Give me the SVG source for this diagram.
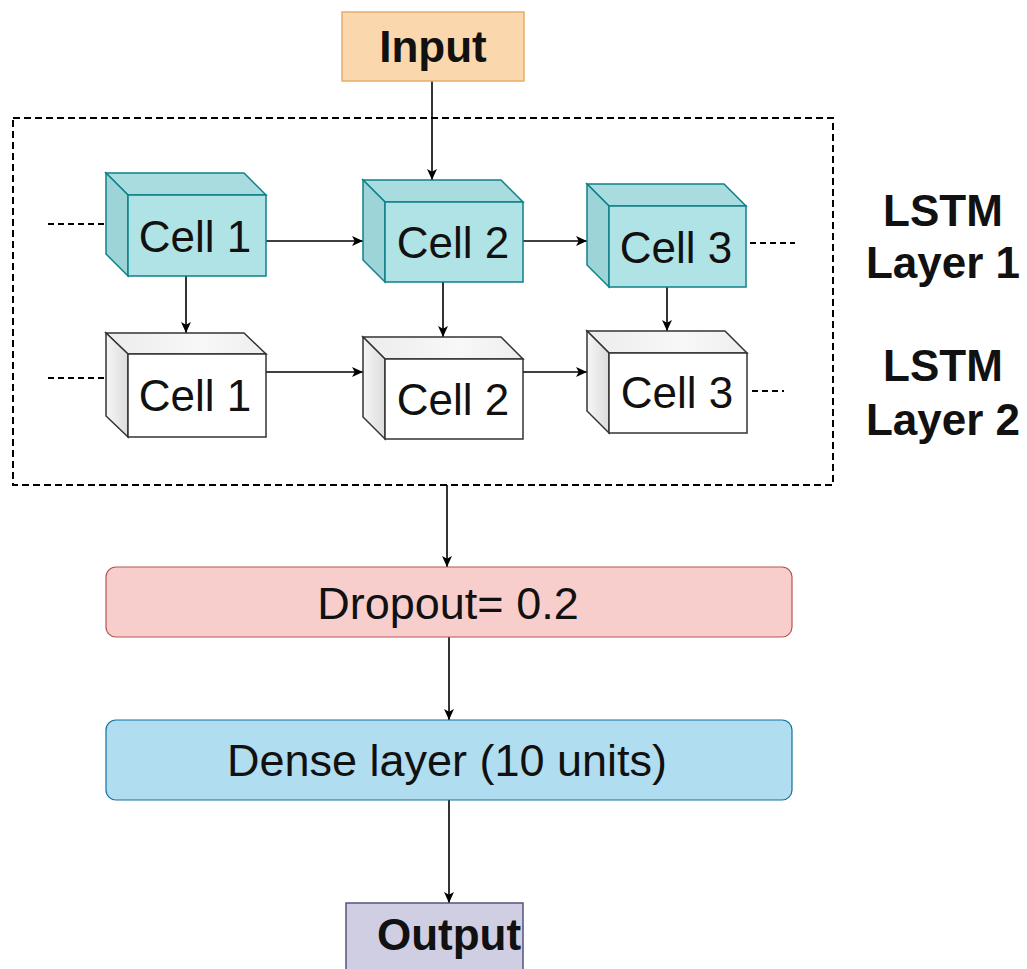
<svg xmlns="http://www.w3.org/2000/svg" width="1027" height="969" viewBox="0 0 1027 969">
  <defs>
    <marker id="arrow" viewBox="0 0 10 10" refX="10" refY="5" markerWidth="11" markerHeight="11" markerUnits="userSpaceOnUse" orient="auto">
      <path d="M0,0.5 L10,5 L0,9.5 L2.5,5 Z" fill="#000"/>
    </marker>
    <linearGradient id="sideWhite" x1="0" y1="0" x2="1" y2="0">
      <stop offset="0" stop-color="#f6f6f6"/>
      <stop offset="1" stop-color="#dcdcdc"/>
    </linearGradient>
    <linearGradient id="topWhite" x1="0" y1="0" x2="1" y2="0">
      <stop offset="0" stop-color="#ececec"/>
      <stop offset="0.6" stop-color="#f8f8f8"/>
      <stop offset="1" stop-color="#eeeeee"/>
    </linearGradient>
  </defs>
  <style>
    text { font-family: "Liberation Sans", Arial, Helvetica, sans-serif; fill: #111; }
    .cell { font-size: 44px; text-anchor: middle; }
    .wide { font-size: 45px; text-anchor: middle; }
    .bold { font-size: 44px; font-weight: bold; text-anchor: middle; }
    .edge { stroke: #000; stroke-width: 1.6; fill: none; }
    .arrow { marker-end: url(#arrow); }
    .dash { stroke-width: 2; stroke-dasharray: 6 4; }
    .teal .front { fill: #b0e3e6; stroke: #0e8088; stroke-width: 1.5; }
    .teal .top { fill: #a9dcdf; stroke: #0e8088; stroke-width: 1.5; }
    .teal .side { fill: #9dd4d7; stroke: #0e8088; stroke-width: 1.5; }
    .white .front { fill: #ffffff; stroke: #333; stroke-width: 1.5; }
    .white .top { fill: url(#topWhite); stroke: #333; stroke-width: 1.5; }
    .white .side { fill: url(#sideWhite); stroke: #333; stroke-width: 1.5; }
  </style>
  <rect width="1027" height="969" fill="#ffffff"/>

  <!-- recurrent block outline -->
  <rect x="13" y="118" width="820" height="367" fill="none" stroke="#000" stroke-width="2" stroke-dasharray="7 4"/>

  <!-- connectors -->
  <g id="connectors">
    <line class="edge arrow" x1="432" y1="81" x2="432" y2="180"/>
    <line class="edge dash" x1="48" y1="224" x2="106" y2="224"/>
    <line class="edge arrow" x1="266" y1="241" x2="363" y2="241"/>
    <line class="edge arrow" x1="523" y1="241" x2="587" y2="241"/>
    <line class="edge dash" x1="750" y1="243" x2="795" y2="243"/>
    <line class="edge dash" x1="48" y1="378" x2="106" y2="378"/>
    <line class="edge arrow" x1="266" y1="372" x2="363" y2="372"/>
    <line class="edge arrow" x1="523" y1="372" x2="587" y2="372"/>
    <line class="edge dash" x1="752" y1="391" x2="784" y2="391"/>
    <line class="edge arrow" x1="186" y1="276" x2="186" y2="333"/>
    <line class="edge arrow" x1="443" y1="282" x2="443" y2="337"/>
    <line class="edge arrow" x1="667" y1="287" x2="667" y2="331"/>
    <line class="edge arrow" x1="447" y1="485" x2="447" y2="567"/>
    <line class="edge arrow" x1="449" y1="637" x2="449" y2="720"/>
    <line class="edge arrow" x1="449" y1="800" x2="449" y2="903"/>
  </g>

  <!-- input -->
  <g id="input">
    <rect x="342" y="12" width="182" height="69" fill="#fad7ac" stroke="#e6ad6a" stroke-width="1.5"/>
    <text class="bold" x="433" y="62">Input</text>
  </g>

  <!-- LSTM layer 1 cells -->
  <g id="l1-cell1" class="teal">
    <polygon class="top" points="106,173 244,173 266,195 128,195"/>
    <polygon class="side" points="106,173 128,195 128,276 106,254"/>
    <rect class="front" x="128" y="195" width="138" height="81"/>
    <text class="cell" x="195" y="252">Cell 1</text>
  </g>
  <g id="l1-cell2" class="teal">
    <polygon class="top" points="363,180 501,180 523,202 385,202"/>
    <polygon class="side" points="363,180 385,202 385,282 363,260"/>
    <rect class="front" x="385" y="202" width="138" height="80"/>
    <text class="cell" x="453" y="258">Cell 2</text>
  </g>
  <g id="l1-cell3" class="teal">
    <polygon class="top" points="587,184 724,184 746,206 609,206"/>
    <polygon class="side" points="587,184 609,206 609,287 587,265"/>
    <rect class="front" x="609" y="206" width="137" height="81"/>
    <text class="cell" x="676" y="263">Cell 3</text>
  </g>

  <!-- LSTM layer 2 cells -->
  <g id="l2-cell1" class="white">
    <polygon class="top" points="106,333 244,333 266,354 128,354"/>
    <polygon class="side" points="106,333 128,354 128,437 106,416"/>
    <rect class="front" x="128" y="354" width="138" height="83"/>
    <text class="cell" x="195" y="411">Cell 1</text>
  </g>
  <g id="l2-cell2" class="white">
    <polygon class="top" points="363,337 501,337 523,359 385,359"/>
    <polygon class="side" points="363,337 385,359 385,439 363,417"/>
    <rect class="front" x="385" y="359" width="138" height="80"/>
    <text class="cell" x="453" y="415">Cell 2</text>
  </g>
  <g id="l2-cell3" class="white">
    <polygon class="top" points="587,331 725,331 747,353 609,353"/>
    <polygon class="side" points="587,331 609,353 609,433 587,411"/>
    <rect class="front" x="609" y="353" width="138" height="80"/>
    <text class="cell" x="677" y="408">Cell 3</text>
  </g>

  <!-- layer captions -->
  <g id="label-layer1">
    <text class="bold" x="943" y="226">LSTM</text>
    <text class="bold" x="943" y="278">Layer 1</text>
  </g>
  <g id="label-layer2">
    <text class="bold" x="943" y="381">LSTM</text>
    <text class="bold" x="943" y="435">Layer 2</text>
  </g>

  <!-- dropout -->
  <g id="dropout">
    <rect x="106" y="567" width="686" height="70" rx="10" fill="#f8cecc" stroke="#b85450" stroke-width="1.2"/>
    <text class="wide" x="448" y="619">Dropout= 0.2</text>
  </g>

  <!-- dense -->
  <g id="dense">
    <rect x="106" y="720" width="686" height="80" rx="10" fill="#b1ddf0" stroke="#10739e" stroke-width="1.2"/>
    <text class="wide" x="447" y="776">Dense layer (10 units)</text>
  </g>

  <!-- output -->
  <g id="output">
    <rect x="346" y="903" width="177" height="80" fill="#d0cee2" stroke="#56517e" stroke-width="1.5"/>
    <text class="bold" x="449" y="950">Output</text>
  </g>
</svg>
